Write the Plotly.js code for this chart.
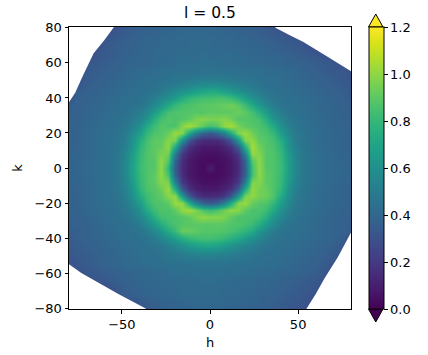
<!DOCTYPE html>
<html><head><meta charset="utf-8">
<script src="https://cdn.plot.ly/plotly-3.0.1.min.js"></script>
<style>html,body{margin:0;padding:0;background:#fff}</style>
</head><body><div id="chart" style="width:428px;height:355px"></div>
<script>
const E = 0.30;
const hValues = [-80,-76,-72,-68,-64,-60,-56,-52,-48,-44,-40,-36,-32,-28,-24,-20,-16,-12,-8,-4,0,4,8,12,16,20,24,28,32,36,40,44,48,52,56,60,64,68,72,76,80];
const kValues = [80,76,72,68,64,60,56,52,48,44,40,36,32,28,24,20,16,12,8,4,0,-4,-8,-12,-16,-20,-24,-28,-32,-36,-40,-44,-48,-52,-56,-60,-64,-68,-72,-76,-80];
const intensity = [
[E,E,E,E,E,E,E,.32,.34,.35,.36,.37,.37,.38,.38,.39,.39,.39,.40,.40,.39,.39,.38,.38,.37,.37,.36,.35,.34,.32,E,E,E,E,E,E,E,E,E,E,E],
[E,E,E,E,E,E,.32,.33,.35,.36,.37,.38,.38,.39,.39,.40,.40,.40,.41,.40,.40,.40,.39,.39,.38,.38,.37,.36,.35,.34,.33,.31,E,E,E,E,E,E,E,E,E],
[E,E,E,E,E,.32,.34,.35,.37,.37,.38,.39,.39,.40,.40,.40,.40,.41,.41,.41,.41,.40,.40,.40,.39,.39,.38,.38,.37,.36,.35,.34,.33,.31,E,E,E,E,E,E,E],
[E,E,E,E,.31,.33,.35,.36,.37,.38,.39,.39,.40,.40,.40,.41,.41,.41,.41,.42,.41,.41,.41,.40,.40,.40,.39,.39,.38,.37,.36,.35,.34,.33,.31,E,E,E,E,E,E],
[E,E,E,E,.32,.34,.35,.36,.37,.38,.39,.39,.40,.40,.41,.41,.42,.42,.42,.43,.42,.42,.42,.42,.41,.41,.40,.40,.39,.39,.38,.37,.36,.35,.34,.33,.31,E,E,E,E],
[E,E,E,.33,.34,.35,.36,.37,.38,.39,.39,.40,.40,.41,.41,.42,.43,.43,.43,.44,.44,.43,.43,.42,.42,.42,.41,.41,.40,.40,.39,.38,.38,.37,.36,.35,.34,.33,.31,E,E],
[E,E,.32,.34,.35,.36,.37,.38,.39,.40,.41,.41,.42,.43,.43,.44,.44,.44,.44,.45,.45,.45,.44,.44,.44,.43,.43,.43,.42,.41,.41,.40,.39,.38,.37,.36,.35,.33,.33,.32,.30],
[E,E,.33,.35,.36,.37,.38,.39,.40,.41,.42,.43,.43,.44,.45,.46,.46,.47,.48,.48,.48,.48,.48,.47,.46,.46,.45,.44,.43,.43,.42,.41,.40,.39,.38,.37,.36,.35,.34,.33,.31],
[E,E,.34,.36,.37,.38,.39,.40,.41,.42,.43,.43,.44,.46,.47,.49,.51,.53,.55,.56,.57,.57,.55,.53,.51,.49,.47,.46,.44,.43,.43,.42,.41,.40,.39,.38,.37,.36,.35,.34,.32],
[E,.36,.36,.37,.38,.39,.40,.41,.42,.43,.44,.45,.46,.49,.52,.56,.60,.63,.68,.70,.72,.72,.68,.64,.60,.56,.52,.49,.46,.45,.44,.43,.42,.41,.40,.39,.38,.37,.36,.35,.33],
[E,.36,.37,.38,.39,.40,.41,.42,.43,.44,.45,.47,.50,.55,.60,.66,.73,.79,.82,.84,.84,.86,.85,.82,.76,.68,.61,.55,.50,.47,.45,.44,.43,.42,.41,.40,.39,.38,.37,.36,.34],
[.36,.37,.38,.39,.39,.40,.42,.43,.44,.45,.46,.50,.56,.62,.72,.80,.85,.86,.88,.89,.90,.91,.92,.94,.90,.82,.73,.63,.56,.50,.46,.45,.44,.43,.42,.40,.39,.39,.38,.37,.36],
[.36,.37,.38,.39,.40,.41,.42,.43,.44,.47,.50,.56,.65,.76,.84,.87,.87,.88,.88,.88,.90,.90,.90,.90,.93,.90,.84,.76,.65,.56,.50,.46,.44,.43,.42,.41,.40,.39,.38,.37,.36],
[.37,.37,.38,.39,.40,.42,.43,.44,.46,.49,.54,.62,.75,.84,.88,.86,.88,.90,.96,.98,.96,.96,.98,.94,.88,.88,.87,.84,.75,.62,.54,.49,.46,.44,.43,.41,.40,.39,.38,.37,.36],
[.37,.38,.39,.40,.41,.42,.43,.45,.47,.52,.60,.73,.82,.88,.86,.86,.98,1.04,.98,.90,.84,.88,1.0,1.04,.96,.90,.88,.86,.82,.73,.60,.52,.47,.45,.43,.42,.40,.39,.38,.38,.37],
[.37,.38,.39,.40,.42,.43,.44,.46,.49,.56,.66,.80,.86,.88,.92,1.02,.98,.72,.50,.38,.34,.40,.52,.74,.96,1.02,.94,.88,.86,.80,.66,.56,.49,.46,.44,.42,.41,.40,.39,.38,.37],
[.37,.38,.39,.40,.42,.43,.44,.46,.50,.60,.74,.84,.90,.90,.98,.96,.62,.34,.19,.15,.14,.15,.20,.34,.64,.98,1.0,.90,.88,.84,.74,.60,.50,.46,.44,.42,.41,.40,.39,.38,.37],
[.37,.38,.39,.40,.42,.43,.45,.47,.52,.62,.78,.86,.90,.92,1.0,.72,.34,.16,.11,.08,.08,.08,.11,.16,.34,.74,1.04,.94,.88,.86,.78,.62,.52,.47,.45,.42,.41,.40,.39,.38,.37],
[.38,.38,.39,.40,.42,.43,.45,.48,.54,.65,.80,.87,.90,.96,.94,.50,.19,.11,.07,.05,.05,.05,.07,.11,.19,.52,1.0,.98,.88,.87,.80,.65,.54,.48,.45,.43,.42,.40,.39,.38,.38],
[.38,.39,.40,.41,.42,.43,.45,.48,.55,.67,.81,.87,.88,1.0,.88,.38,.15,.08,.05,.04,.03,.04,.05,.08,.15,.38,.88,1.0,.88,.87,.81,.67,.55,.48,.45,.43,.42,.41,.40,.39,.38],
[.38,.39,.40,.41,.42,.43,.45,.48,.56,.68,.82,.87,.88,1.0,.80,.34,.14,.08,.05,.03,.10,.03,.05,.08,.14,.36,.84,1.0,.88,.87,.82,.68,.56,.48,.45,.43,.42,.41,.40,.39,.38],
[.38,.39,.40,.41,.42,.43,.45,.48,.55,.67,.81,.87,.90,1.0,.86,.38,.15,.08,.05,.04,.03,.04,.05,.08,.15,.38,.84,1.0,.90,.87,.81,.67,.55,.48,.45,.43,.42,.41,.40,.39,.38],
[.38,.38,.39,.40,.42,.43,.45,.48,.54,.65,.80,.87,.90,.98,.96,.52,.19,.11,.07,.05,.05,.05,.07,.11,.19,.50,.96,.98,.90,.87,.80,.65,.54,.48,.45,.43,.42,.40,.39,.38,.38],
[.37,.38,.39,.40,.42,.43,.45,.47,.52,.62,.78,.86,.88,.93,1.02,.74,.34,.16,.11,.08,.08,.08,.11,.16,.34,.72,1.0,.95,.92,.87,.78,.62,.52,.47,.45,.42,.41,.40,.39,.38,.37],
[.37,.38,.39,.40,.42,.43,.44,.46,.50,.59,.73,.83,.87,.90,.98,1.0,.64,.34,.19,.15,.14,.15,.19,.34,.62,.96,1.0,.95,.93,.87,.73,.59,.50,.46,.44,.42,.41,.40,.39,.38,.37],
[.37,.38,.39,.40,.42,.43,.44,.46,.49,.56,.66,.80,.86,.87,.90,1.02,1.0,.74,.52,.38,.34,.38,.52,.74,.98,1.02,.92,.88,.87,.80,.66,.56,.49,.46,.44,.42,.41,.40,.39,.38,.37],
[.37,.38,.39,.40,.41,.42,.43,.45,.47,.52,.60,.73,.82,.87,.86,.90,1.0,1.04,.96,.86,.82,.86,.94,1.0,.98,.90,.86,.86,.82,.73,.60,.52,.47,.45,.43,.41,.40,.39,.38,.37,.36],
[.36,.37,.38,.39,.40,.42,.43,.44,.46,.49,.55,.63,.75,.83,.85,.86,.88,.90,.96,1.0,.98,.98,.96,.90,.86,.86,.85,.83,.75,.63,.55,.49,.46,.44,.43,.41,.40,.39,.38,.37,.36],
[.36,.37,.37,.38,.40,.41,.42,.43,.44,.46,.50,.57,.65,.75,.82,.86,.88,.89,.89,.89,.89,.90,.89,.87,.87,.85,.82,.75,.65,.57,.50,.46,.44,.43,.42,.40,.39,.38,.37,.36,.35],
[.35,.36,.37,.38,.39,.40,.41,.43,.44,.45,.46,.50,.56,.63,.73,.81,.92,.92,.90,.88,.88,.88,.87,.85,.82,.78,.73,.63,.56,.50,.46,.45,.44,.43,.42,.41,.40,.39,.38,.37,.34],
[.34,.36,.37,.38,.39,.40,.41,.42,.43,.44,.45,.46,.50,.55,.60,.67,.75,.80,.83,.84,.84,.83,.80,.76,.72,.66,.60,.55,.50,.46,.45,.44,.43,.42,.41,.40,.39,.38,.37,.34,E],
[.34,.35,.36,.37,.38,.39,.40,.41,.42,.43,.44,.45,.46,.48,.52,.56,.60,.65,.68,.71,.71,.70,.66,.62,.58,.55,.52,.48,.46,.45,.44,.43,.42,.41,.40,.39,.38,.37,.35,.33,E],
[.33,.34,.35,.36,.37,.38,.39,.40,.41,.42,.43,.44,.44,.46,.47,.50,.52,.54,.56,.57,.57,.56,.55,.53,.51,.48,.47,.46,.44,.43,.43,.42,.41,.40,.39,.38,.37,.35,.33,E,E],
[.32,.33,.34,.35,.36,.38,.39,.40,.41,.42,.43,.44,.44,.45,.46,.46,.47,.48,.48,.48,.48,.48,.48,.47,.46,.46,.45,.44,.43,.43,.42,.41,.40,.39,.38,.37,.36,.34,.32,E,E],
[E,.32,.33,.34,.36,.37,.38,.39,.40,.41,.41,.42,.43,.43,.44,.44,.44,.44,.45,.45,.45,.45,.45,.44,.44,.44,.43,.43,.42,.42,.41,.40,.39,.38,.37,.36,.34,.32,E,E,E],
[E,E,.31,.33,.34,.35,.36,.37,.38,.39,.40,.40,.41,.41,.42,.43,.43,.43,.44,.44,.44,.44,.43,.43,.43,.42,.42,.41,.41,.40,.39,.39,.38,.37,.36,.35,.33,E,E,E,E],
[E,E,E,E,.31,.33,.35,.36,.37,.38,.39,.39,.40,.40,.41,.41,.42,.42,.42,.43,.43,.42,.42,.42,.41,.41,.40,.40,.39,.39,.38,.37,.36,.35,.34,.33,.31,E,E,E,E],
[E,E,E,E,E,E,.31,.34,.36,.37,.38,.39,.39,.40,.40,.41,.41,.41,.41,.42,.41,.41,.41,.41,.40,.40,.40,.39,.39,.38,.37,.36,.35,.34,.33,.31,E,E,E,E,E],
[E,E,E,E,E,E,E,.32,.35,.36,.37,.38,.39,.39,.40,.40,.41,.41,.41,.41,.41,.41,.40,.40,.40,.39,.39,.38,.38,.37,.36,.35,.34,.33,.32,.30,E,E,E,E,E],
[E,E,E,E,E,E,E,E,E,.32,.34,.36,.37,.38,.38,.39,.39,.40,.40,.40,.40,.40,.40,.39,.39,.39,.38,.38,.37,.36,.35,.34,.33,.32,.30,E,E,E,E,E,E],
[E,E,E,E,E,E,E,E,E,E,E,.33,.35,.36,.37,.38,.38,.39,.39,.39,.39,.39,.39,.38,.38,.38,.37,.37,.36,.35,.34,.33,.32,.31,.30,E,E,E,E,E,E]
];
const colorTicks = [0,0.2,0.4,0.6,0.8,1.0,1.2];
const xTicks = [-50,0,50];
const yTicks = [-80,-60,-40,-20,0,20,40,60,80];
// areas with no coverage
const gapTLh = [-82,-80,-76.5,-72,-66,-60,-55,-53,-82];
const gapTLk = [34.5,37.6,43,53,65.5,73,80,82.5,82.5];
const gapTRh = [35,37.4,45,53,66,80,82,82];
const gapTRk = [82,80,76,72,64,55.4,54,82];
const gapBLh = [-82,-80,-73,-66,-52,-37,-34,-82];
const gapBLk = [-54,-55,-60,-64,-72,-80,-82,-82];
const gapBRh = [54,55,60,65,72.5,80,82,82];
const gapBRk = [-82,-80,-72,-63,-51,-36.7,-33,-82];

const font = {family:'"DejaVu Sans", sans-serif', size:13, color:'#000'};
const left=69, right=351, top_=27, bottom=309, W=428, H=355;
const cbL=368.5, cbR=383;
const px = x => (x-left)/(right-left);
const py = y => (bottom-y)/(bottom-top_);
const axis = {showline:true, mirror:true, linecolor:'#000', linewidth:1, ticks:'outside', ticklen:3.5, tickwidth:1, tickcolor:'#000', showgrid:false, zeroline:false, tickfont:font};
const gap = (x,y) => ({type:'scatter', mode:'lines', x:x, y:y, fill:'toself', fillcolor:'#fff', line:{width:0,color:'#fff'}, showlegend:false, hoverinfo:'skip'});

Plotly.newPlot('chart',[{
  type:'heatmap', x:hValues, y:kValues, z:intensity, zmin:0, zmax:1.2, zsmooth:'best',
  colorscale:'Viridis',
  colorbar:{x:px(cbL), xanchor:'left', xpad:0, ypad:0, y:0, yanchor:'bottom',
    lenmode:'pixels', len:bottom-top_, thicknessmode:'pixels', thickness:cbR-cbL,
    outlinewidth:1, outlinecolor:'#000', borderwidth:0, ticks:'outside', ticklen:3.5, tickwidth:1, tickcolor:'#000',
    tickvals:colorTicks, tickformat:'.1f', tickfont:font}
}, gap(gapTLh,gapTLk), gap(gapTRh,gapTRk), gap(gapBLh,gapBLk), gap(gapBRh,gapBRk)],{
  width:W, height:H, autosize:false, paper_bgcolor:'#fff', plot_bgcolor:'#fff', showlegend:false,
  margin:{l:left, r:W-right, t:top_, b:H-bottom, pad:0},
  font:font,
  title:{text:'l = 0.5', font:{family:font.family,size:15.5,color:'#000'}, x:(left+right)/2/W, xanchor:'center', y:1-13/H, yanchor:'middle'},
  xaxis:Object.assign({},axis,{range:[-80,80], tickvals:xTicks, title:{text:'h',font:font,standoff:6}}),
  yaxis:Object.assign({},axis,{range:[-80.5,80.5], tickvals:yTicks, title:{text:'k',font:font,standoff:8}}),
  shapes:[
    {type:'path', xref:'paper', yref:'paper', layer:'above', fillcolor:'#fde725', line:{color:'#000',width:1},
     path:`M ${px(cbL)} ${py(top_)} L ${px((cbL+cbR)/2)} ${py(14)} L ${px(cbR)} ${py(top_)} Z`},
    {type:'path', xref:'paper', yref:'paper', layer:'above', fillcolor:'#440154', line:{color:'#000',width:1},
     path:`M ${px(cbL)} ${py(bottom)} L ${px((cbL+cbR)/2)} ${py(322)} L ${px(cbR)} ${py(bottom)} Z`}
  ]
},{displayModeBar:false});
</script></body></html>
